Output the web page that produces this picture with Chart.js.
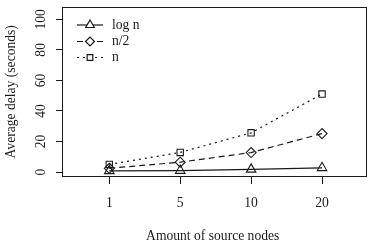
<!DOCTYPE html>
<html>
<head>
<meta charset="utf-8">
<script src="https://cdn.jsdelivr.net/npm/chart.js@4/dist/chart.umd.min.js"></script>
<style>
  html, body { margin: 0; padding: 0; background: #fff; }
  #wrap { width: 374px; height: 242px; }
</style>
</head>
<body>
<div id="wrap"><canvas id="myChart" width="374" height="242"></canvas></div>
<script>
// data
const categories = ['1', '5', '10', '20'];
const logN = [0.8, 1.0, 1.8, 2.8];
const halfN = [2.5, 6.5, 12.8, 25.2];
const fullN = [5.0, 12.9, 25.7, 51.1];
const yTicks = [0, 20, 40, 60, 80, 100];
const seriesNames = ['log n', 'n/2', 'n'];

const FONT = '13.6px "Liberation Serif", "DejaVu Serif", serif';
const INK = '#1a1a1a';

function toPoints(arr) {
  return arr.map((v, i) => ({ x: i, y: v }));
}

const seriesStyle = [
  { data: logN, dash: [], point: 'triangle', radius: 5.5 },
  { data: halfN, dash: [6, 4], point: 'rectRot', radius: 5 },
  { data: fullN, dash: [2, 4], point: 'rect', radius: 4.5 },
];

// R-like box, labels and legend
const rStyle = {
  id: 'rStyle',
  afterDraw(chart) {
    const c = chart.ctx;
    const a = chart.chartArea;
    const xs = chart.scales.x;
    const ys = chart.scales.y;
    c.save();
    c.strokeStyle = INK;
    c.lineWidth = 1;
    c.setLineDash([]);
    c.strokeRect(Math.round(a.left) + 0.5, Math.round(a.top) + 0.5,
      Math.round(a.right - a.left) - 1, Math.round(a.bottom - a.top) - 1);

    c.fillStyle = INK;
    c.font = FONT;
    // x tick labels
    c.textAlign = 'center';
    c.textBaseline = 'middle';
    categories.forEach((lab, i) => {
      c.fillText(lab, xs.getPixelForValue(i), 203);
    });
    c.fillText('Amount of source nodes', (a.left + a.right) / 2 - 2, 236);

    // y tick labels (rotated, R style)
    yTicks.forEach(v => {
      c.save();
      c.translate(41, ys.getPixelForValue(v));
      c.rotate(-Math.PI / 2);
      c.fillText(String(v), 0, 0);
      c.restore();
    });
    c.save();
    c.translate(11, (a.top + a.bottom) / 2);
    c.rotate(-Math.PI / 2);
    c.fillText('Average delay (seconds)', 0, 0);
    c.restore();

    // legend
    const rows = [25, 41.5, 57.5];
    seriesStyle.forEach((s, k) => {
      const y = rows[k];
      c.strokeStyle = INK;
      c.lineWidth = 1.2;
      c.setLineDash(s.dash);
      c.beginPath();
      c.moveTo(77, y);
      c.lineTo(103, y);
      c.stroke();
      c.setLineDash([]);
      c.fillStyle = '#fff';
      Chart.helpers.drawPoint(c, { pointStyle: s.point, radius: s.radius - 0.5, rotation: 0, borderWidth: 1.1 }, 90, y);
      c.fillStyle = INK;
      c.textAlign = 'left';
      c.fillText(seriesNames[k], 112, y);
    });
    c.restore();
  }
};

const ctx = document.getElementById('myChart');
const myChart = new Chart(ctx, {
  type: 'line',
  data: {
    datasets: seriesStyle.map((s, k) => ({
      label: seriesNames[k],
      data: toPoints(s.data),
      borderColor: INK,
      borderWidth: 1.2,
      borderDash: s.dash,
      pointStyle: s.point,
      pointRadius: s.radius,
      pointBorderColor: INK,
      pointBorderWidth: 1.1,
      pointBackgroundColor: 'rgba(0,0,0,0)',
      fill: false,
      tension: 0,
    })),
  },
  plugins: [rStyle],
  options: {
    responsive: false,
    animation: false,
    devicePixelRatio: 1,
    layout: { padding: { top: 2, right: 2, left: 0, bottom: 0 } },
    plugins: { legend: { display: false }, tooltip: { enabled: false } },
    scales: {
      x: {
        type: 'linear',
        min: -0.667,
        max: 3.64,
        afterBuildTicks: s => { s.ticks = categories.map((_, i) => ({ value: i })); },
        afterFit: s => { s.height = 65; },
        ticks: { display: false },
        border: { display: false },
        grid: { drawOnChartArea: false, drawTicks: true, tickLength: 7, color: INK },
      },
      y: {
        min: -3.2,
        max: 108.3,
        afterBuildTicks: s => { s.ticks = yTicks.map(v => ({ value: v })); },
        afterFit: s => { s.width = 62; },
        ticks: { display: false },
        border: { display: false },
        grid: { drawOnChartArea: false, drawTicks: true, tickLength: 6, color: INK },
      },
    },
  },
});
</script>
</body>
</html>
